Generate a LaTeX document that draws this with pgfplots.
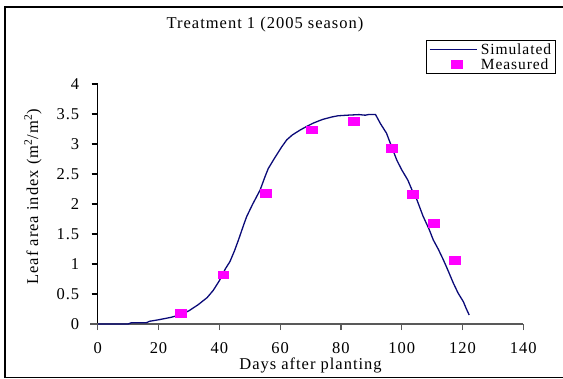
\documentclass[border=0pt]{standalone}
\usepackage{fontspec}
\setmainfont{Liberation Serif}[LetterSpace=6]
\usepackage{pgfplots}
\pgfplotsset{compat=1.18}
\definecolor{simblue}{RGB}{10,10,120}
\definecolor{meas}{RGB}{255,0,255}
\pgfplotsset{
  simlegend/.style={legend image code/.code={\path (0bp,0bp) (49bp,0bp); \draw[##1] (0bp,0bp) -- (47bp,0bp);}},
  measlegend/.style={legend image code/.code={\path (0bp,0bp) (49bp,0bp); \draw[mark repeat=2,mark phase=2,##1] plot coordinates {(0bp,0bp) (27bp,0bp) (47bp,0bp)};}},
}
\begin{document}
\begin{tikzpicture}[font=\fontsize{16.5bp}{18bp}\selectfont]
\useasboundingbox (0,0) rectangle (563bp,379bp);
\draw[line width=1.5bp] (563bp,372bp) -- (5bp,372bp) -- (5bp,1.5bp) -- (563bp,1.5bp);
\node at (265bp,354bp) {Treatment 1 (2005 season)};
\begin{axis}[
  at={(97.7bp,55bp)}, anchor=south west,
  scale only axis, width=425.6bp, height=240bp,
  xmin=0, xmax=140, ymin=0, ymax=4,
  axis x line*=bottom, axis y line*=left,
  x axis line style={draw=black!65, line width=1.2bp},
  y axis line style={draw=black, line width=1.2bp},
  xtick={0,20,...,140}, ytick={0,0.5,...,4},
  tick align=outside, major tick length=6bp,
  x tick style={draw=black!65, line width=1.2bp},
  y tick style={draw=black, line width=1.2bp},
  minor tick num=0,
  /pgf/number format/assume math mode=true,
  yticklabel style={/pgf/number format/fixed, xshift=-9bp},
  xticklabel style={yshift=-9bp},
  clip=false,
  xlabel={Days after planting},
  xlabel style={at={(axis description cs:0.5,0)}, anchor=center, yshift=-41bp},
  ylabel={Leaf area index (m\textsuperscript{2}/m\textsuperscript{2})},
  ylabel style={at={(axis description cs:-0.152,0.53)}, anchor=center},
  legend style={at={(axis description cs:1.0768,1.1833)}, anchor=north east,
    draw=black, line width=0.8bp, inner xsep=3bp, inner ysep=1.5bp, row sep=0bp,
    nodes={inner xsep=1.5bp, inner ysep=0bp, text height=12.5bp, text depth=2.6bp},
    font=\fontsize{15.5bp}{17bp}\selectfont},
  legend cell align=left,
]
\addplot[simblue, line width=1.3bp, mark=none, simlegend]
  coordinates {
(0,0) (5,0) (10,0) (11,0.02) (16,0.02) (17,0.045) (20,0.07) (24,0.11) (27,0.15)
(30,0.22) (33,0.32) (36,0.44) (38,0.56) (40,0.72) (42,0.92) (43.5,1.04) (45,1.22)
(46.3,1.4) (48,1.65) (49,1.79) (51,2.0) (53.4,2.23) (55,2.45) (56.1,2.59) (58,2.75)
(59,2.83) (60.5,2.95) (62.2,3.07) (64,3.15) (66.5,3.23) (69,3.30) (71,3.35) (74,3.41)
(77,3.45) (79,3.47) (82,3.48) (86,3.49) (88,3.48) (89,3.49) (91.4,3.49) (93,3.34)
(95,3.18) (96.5,2.98) (98.4,2.73) (100,2.57) (102,2.4) (103.5,2.22) (105,2.07)
(107,1.8) (109,1.58) (110.4,1.4) (112,1.25) (113.7,1.07) (115,0.92) (117,0.68)
(118.5,0.52) (120.3,0.37) (121.2,0.26) (122.2,0.15)
};
\addlegendentry{Simulated}
\addplot[only marks, mark=square*, mark size=3.7bp,
  mark options={xscale=1.45, draw=meas, fill=meas}, measlegend]
  coordinates {
(27.3,0.18) (41.3,0.82) (55.3,2.18) (70.4,3.24) (84.3,3.38) (96.6,2.93)
(103.5,2.16) (110.5,1.68) (117.5,1.06)
};
\addlegendentry{Measured}
\draw[black!65, line width=1.2bp] (axis cs:-2.4,0) -- (axis cs:0,0);
\end{axis}
\end{tikzpicture}
\end{document}
